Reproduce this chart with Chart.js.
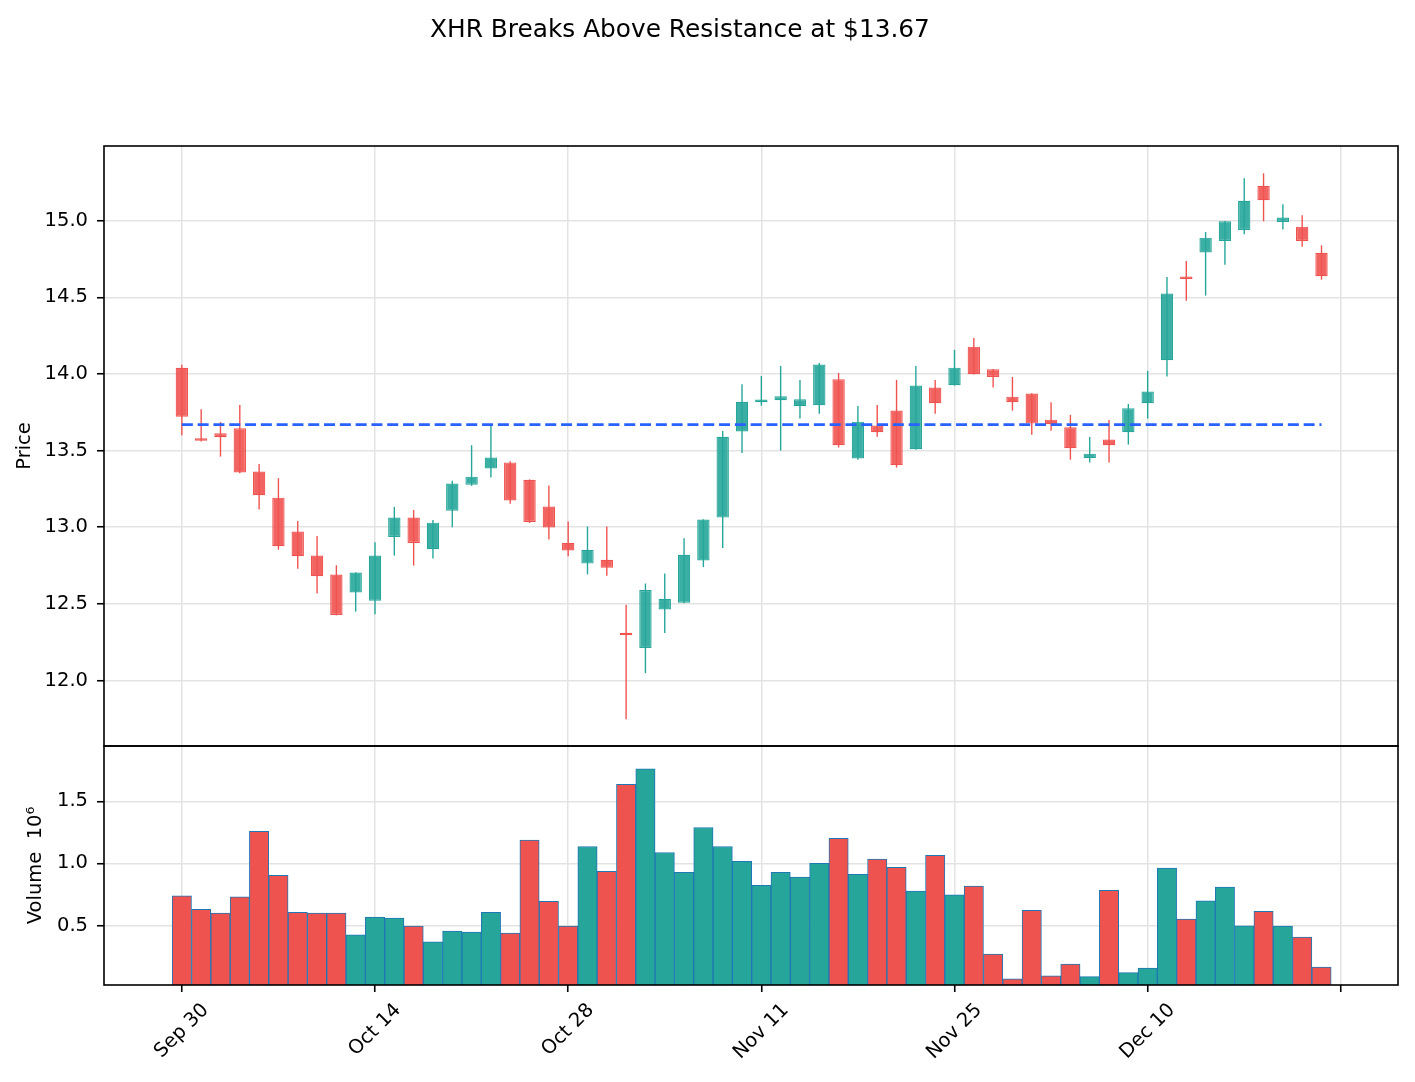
<!DOCTYPE html>
<html>
<head>
<meta charset="utf-8">
<script src="https://cdn.jsdelivr.net/npm/chart.js@4.4.1/dist/chart.umd.min.js"></script>
<style>
  html, body { margin: 0; padding: 0; background: #ffffff; }
  #c { display: block; }
</style>
</head>
<body>
<canvas id="c" width="1415" height="1082"></canvas>
<script>
const titleText = 'XHR Breaks Above Resistance at $13.67';
const resistance = 13.67;

const dates = ['Sep 30','Oct 1','Oct 2','Oct 3','Oct 4','Oct 7','Oct 8','Oct 9','Oct 10','Oct 11',
  'Oct 14','Oct 15','Oct 16','Oct 17','Oct 18','Oct 21','Oct 22','Oct 23','Oct 24','Oct 25',
  'Oct 28','Oct 29','Oct 30','Oct 31','Nov 1','Nov 4','Nov 5','Nov 6','Nov 7','Nov 8',
  'Nov 11','Nov 12','Nov 13','Nov 14','Nov 15','Nov 18','Nov 19','Nov 20','Nov 21','Nov 22',
  'Nov 25','Nov 26','Nov 27','Nov 29','Dec 2','Dec 3','Dec 4','Dec 5','Dec 6',
  'Dec 9','Dec 10','Dec 11','Dec 12','Dec 13','Dec 16','Dec 17','Dec 18','Dec 19','Dec 20','Dec 23'];

const openP = [14.04,13.575,13.613,13.646,13.363,13.193,12.972,12.815,12.691,12.574,
  12.520,12.937,13.063,12.857,13.108,13.278,13.383,13.423,13.310,13.135,
  12.898,12.763,12.788,12.308,12.213,12.463,12.508,12.783,13.063,13.625,
  13.815,13.828,13.789,13.796,13.965,13.448,13.663,13.761,13.509,13.911,
  13.926,14.178,14.030,13.852,13.872,13.702,13.652,13.450,13.572,13.620,
  13.809,14.089,14.625,14.793,14.867,14.939,15.228,14.991,14.961,14.791];
const highP = [14.06,13.77,13.687,13.798,13.413,13.320,13.041,12.943,12.752,12.706,
  12.902,13.133,13.113,13.048,13.303,13.535,13.670,13.430,13.312,13.273,
  13.038,13.005,13.005,12.495,12.633,12.698,12.928,13.052,13.628,13.933,
  13.987,14.052,13.961,14.072,14.007,13.791,13.798,13.961,14.052,13.961,
  14.157,14.235,14.032,13.980,13.874,13.815,13.733,13.589,13.700,13.804,
  14.020,14.633,14.737,14.926,14.998,15.276,15.309,15.107,15.035,14.839];
const lowP = [13.60,13.56,13.461,13.352,13.115,12.854,12.730,12.567,12.425,12.450,
  12.433,12.815,12.750,12.796,13.000,13.270,13.325,13.153,13.028,12.920,
  12.810,12.693,12.683,11.748,12.048,12.310,12.505,12.740,12.865,13.485,
  13.793,13.500,13.709,13.741,13.520,13.441,13.591,13.389,13.505,13.741,
  13.924,13.996,13.911,13.761,13.604,13.630,13.441,13.422,13.422,13.539,
  13.709,13.983,14.478,14.511,14.713,14.911,14.996,14.943,14.830,14.615];
const closeP = [13.72,13.565,13.587,13.357,13.209,12.876,12.811,12.680,12.428,12.704,
  12.815,13.063,12.898,13.030,13.285,13.330,13.455,13.175,13.035,12.998,
  12.848,12.853,12.735,12.295,12.590,12.533,12.820,13.050,13.590,13.818,
  13.833,13.854,13.835,14.061,13.535,13.689,13.620,13.404,13.924,13.809,
  14.041,13.998,13.980,13.815,13.676,13.672,13.515,13.480,13.535,13.776,
  13.885,14.524,14.620,14.889,14.996,15.130,15.133,15.020,14.867,14.637];
// volume in millions (x 10^6)
const volume = [0.738,0.631,0.599,0.730,1.259,0.904,0.607,0.599,0.599,0.425,
  0.567,0.559,0.495,0.369,0.455,0.447,0.607,0.439,1.187,0.695,
  0.495,1.136,0.936,1.636,1.762,1.088,0.928,1.289,1.136,1.016,
  0.824,0.928,0.890,1.000,1.201,0.912,1.035,0.968,0.778,1.064,
  0.746,0.818,0.270,0.070,0.623,0.094,0.190,0.088,0.783,0.120,
  0.158,0.963,0.551,0.698,0.810,0.497,0.615,0.495,0.406,0.166];

const UP = '#26a69a', DOWN = '#ef5350';
const UP_FILL = 'rgba(38,166,154,0.9)', DOWN_FILL = 'rgba(239,83,80,0.9)';
const isUp = closeP.map((c, i) => c >= openP[i]);

const bodies = dates.map((d, i) => ({x: i, y: [openP[i], closeP[i]]}));
const wicks = dates.map((d, i) => ({x: i, y: [lowP[i], highP[i]]}));
const vols = dates.map((d, i) => ({x: i, y: volume[i]}));

const FONT = '"DejaVu Sans", "Liberation Sans", sans-serif';
Chart.defaults.font.family = FONT;
Chart.defaults.color = '#000';

const GRID = '#e3e3e3';

const decor = {
  id: 'decor',
  afterDraw(chart) {
    const ctx = chart.ctx;
    const ca = chart.chartArea;
    const yp = chart.scales.y, yv = chart.scales.yv, xs = chart.scales.x;
    ctx.save();
    // panel frames
    ctx.strokeStyle = '#000';
    ctx.lineWidth = 1.6;
    ctx.strokeRect(ca.left, yp.top, ca.right - ca.left, yp.bottom - yp.top);
    ctx.strokeRect(ca.left, yv.top, ca.right - ca.left, yv.bottom - yv.top);
    // title
    ctx.fillStyle = '#000';
    ctx.font = '24.8px ' + FONT;
    ctx.textAlign = 'center';
    ctx.textBaseline = 'alphabetic';
    ctx.fillText(titleText, 680, 37);
    // rotated x tick labels (centered on tick like matplotlib)
    const fs = 19.5;
    ctx.font = fs + 'px ' + FONT;
    xs.ticks.forEach(t => {
      const lab = dates[t.value];
      if (lab === undefined) return;
      const px = xs.getPixelForValue(t.value);
      const L = ctx.measureText(lab).width;
      const H = 1.164 * fs;
      const half = (L + H) * Math.SQRT1_2 / 2;
      const cy = xs.top + 14 + half;
      ctx.save();
      ctx.translate(px, cy);
      ctx.rotate(-Math.PI / 4);
      ctx.textAlign = 'center';
      ctx.textBaseline = 'middle';
      ctx.fillText(lab, 0, 0);
      ctx.restore();
    });
    ctx.restore();
  }
};

new Chart(document.getElementById('c'), {
  type: 'bar',
  data: {
    datasets: [
      {
        type: 'line',
        label: 'Resistance',
        data: [{x: 0, y: resistance}, {x: dates.length - 1, y: resistance}],
        yAxisID: 'y',
        borderColor: '#2962ff',
        borderWidth: 2.8,
        borderDash: [11, 4.8],
        pointRadius: 0,
        fill: false,
        order: 0
      },
      {
        label: 'Body',
        data: bodies,
        yAxisID: 'y',
        grouped: false,
        backgroundColor: isUp.map(u => u ? UP_FILL : DOWN_FILL),
        borderColor: isUp.map(u => u ? UP : DOWN),
        borderWidth: 1.2,
        borderSkipped: false,
        minBarLength: 2.5,
        barPercentage: 0.64,
        categoryPercentage: 1,
        order: 1
      },
      {
        label: 'Wick',
        data: wicks,
        yAxisID: 'y',
        grouped: false,
        backgroundColor: isUp.map(u => u ? UP : DOWN),
        borderWidth: 0,
        barPercentage: 0.072,
        categoryPercentage: 1,
        order: 2
      },
      {
        label: 'Volume',
        data: vols,
        yAxisID: 'yv',
        grouped: false,
        backgroundColor: isUp.map(u => u ? UP : DOWN),
        borderColor: '#1f77b4',
        borderWidth: 1,
        borderSkipped: false,
        barPercentage: 1,
        categoryPercentage: 1,
        order: 3
      }
    ]
  },
  options: {
    responsive: false,
    devicePixelRatio: 1,
    animation: false,
    events: [],
    layout: { padding: { top: 146, right: 17, bottom: 0, left: 0 } },
    plugins: { legend: { display: false }, tooltip: { enabled: false }, title: { display: false } },
    scales: {
      x: {
        type: 'linear',
        position: 'bottom',
        min: -4.03,
        max: 62.96,
        offset: false,
        grid: { color: GRID, lineWidth: 1.5, offset: false, drawTicks: true, tickLength: 7, tickColor: '#000', tickWidth: 1.6 },
        border: { display: false },
        ticks: { display: false, stepSize: 10, includeBounds: false },
        afterFit(s) { s.height = 97; }
      },
      yv: {
        type: 'linear',
        position: 'left',
        stack: 'panels',
        stackWeight: 239,
        weight: 1,
        min: 0.021,
        max: 1.945,
        beginAtZero: false,
        grid: { color: GRID, lineWidth: 1.5, tickLength: 7, tickColor: '#000', tickWidth: 1.6 },
        border: { display: false },
        ticks: { stepSize: 0.5, includeBounds: false, padding: 9, color: '#000', font: { size: 19.5 },
                 callback: v => v.toFixed(1) },
        title: { display: true, text: 'Volume  10⁶', color: '#000', font: { size: 19.5 }, padding: { top: 24, bottom: 0 } },
        afterFit(s) { s.width = 104; }
      },
      y: {
        type: 'linear',
        position: 'left',
        stack: 'panels',
        stackWeight: 600,
        weight: 2,
        min: 11.573,
        max: 15.487,
        beginAtZero: false,
        grid: { color: GRID, lineWidth: 1.5, tickLength: 7, tickColor: '#000', tickWidth: 1.6 },
        border: { display: false },
        ticks: { stepSize: 0.5, includeBounds: false, padding: 9, color: '#000', font: { size: 19.5 },
                 callback: v => v.toFixed(1) },
        title: { display: true, text: 'Price', color: '#000', font: { size: 19.5 }, padding: { top: 13.5, bottom: 0 } },
        afterFit(s) { s.width = 104; }
      }
    }
  },
  plugins: [decor]
});
</script>
</body>
</html>
